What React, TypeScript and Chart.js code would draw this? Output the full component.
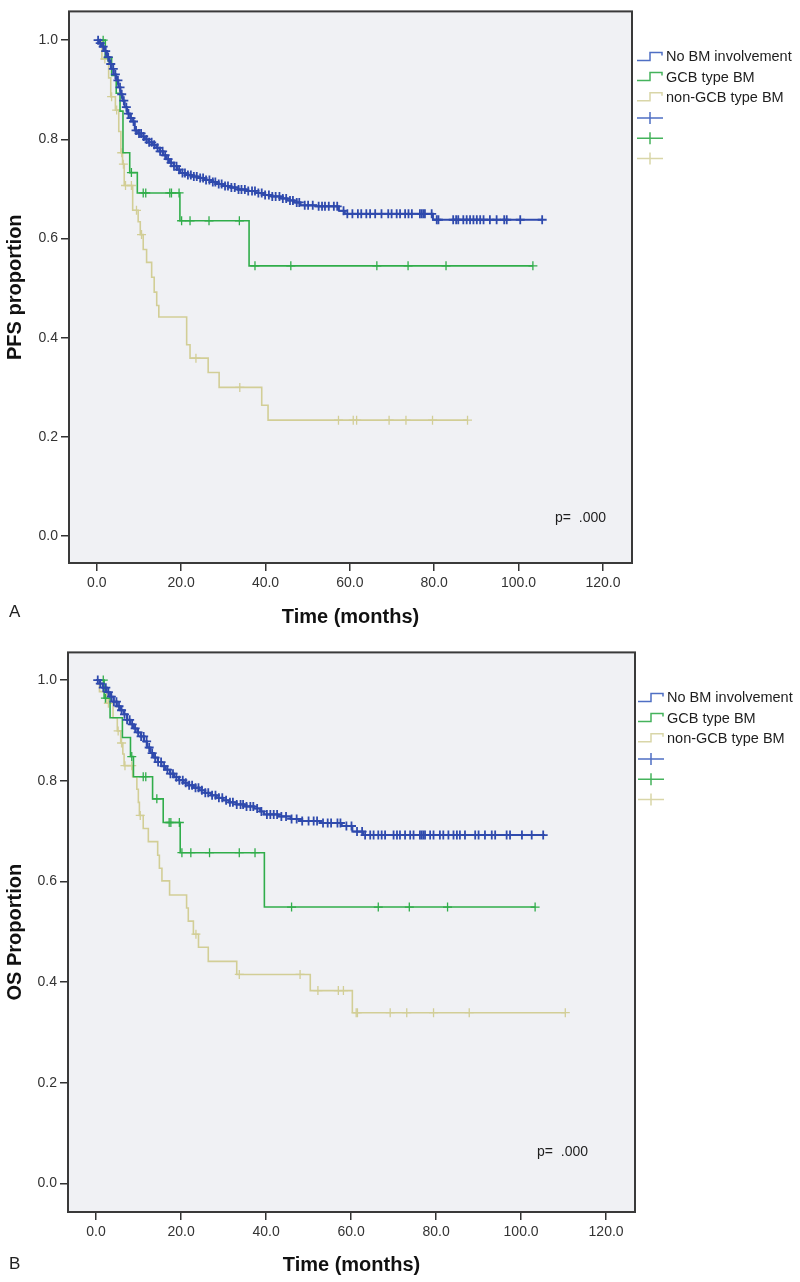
import React, { useEffect, useRef } from "react";
import { Chart, registerables } from "chart.js";

Chart.register(...registerables);

// ---------------- data ----------------
const xTickValues = [0, 20, 40, 60, 80, 100, 120];
const yTickValues = [0, 0.2, 0.4, 0.6, 0.8, 1.0];
const groupLabels = ["No BM involvement", "GCB type BM", "non-GCB type BM"];

// Panel A – PFS
const pfsNoBmTime = [0, 0.6, 1.2, 1.8, 2.4, 3.0, 3.5, 4.0, 4.6, 5.1, 5.6, 6.1, 6.6, 7.2, 7.9, 8.6, 9.0, 9.8, 10.6, 11.4, 12.3, 13.2, 14.1, 14.9, 15.7, 16.5, 17.3, 18.2, 19.0, 19.8, 21.0, 22.5, 24.0, 25.6, 27.2, 28.6, 30.1, 31.8, 33.5, 35.4, 37.6, 39.6, 41.5, 43.6, 45.2, 46.8, 48.3, 52.0, 57.4, 58.8, 79.7, 105.8];
const pfsNoBmSurv = [1.0, 0.994, 0.987, 0.978, 0.966, 0.952, 0.942, 0.931, 0.919, 0.905, 0.891, 0.878, 0.865, 0.852, 0.843, 0.836, 0.818, 0.812, 0.806, 0.8, 0.794, 0.789, 0.783, 0.776, 0.768, 0.76, 0.753, 0.746, 0.739, 0.732, 0.728, 0.725, 0.722, 0.718, 0.714, 0.71, 0.706, 0.703, 0.699, 0.696, 0.692, 0.688, 0.685, 0.681, 0.677, 0.673, 0.667, 0.665, 0.656, 0.65, 0.638, 0.638];
const pfsNoBmCensor = [0.3, 0.8, 1.5, 2.1, 2.7, 3.3, 3.9, 4.4, 5.0, 5.5, 5.9, 6.4, 7.0, 7.5, 8.1, 8.7, 9.3, 10.0, 10.5, 11.1, 11.8, 12.4, 13.0, 13.6, 14.4, 15.0, 15.6, 16.2, 16.9, 17.6, 18.3, 18.9, 19.5, 20.3, 20.9, 21.6, 22.3, 23.0, 23.7, 24.5, 25.2, 25.9, 26.7, 27.5, 28.1, 28.9, 29.6, 30.4, 31.1, 31.9, 32.7, 33.6, 34.3, 35.1, 35.9, 36.8, 37.5, 38.3, 39.1, 39.9, 40.8, 41.6, 42.4, 43.3, 44.1, 44.9, 45.8, 46.5, 47.4, 48.0, 49.3, 50.1, 51.2, 52.6, 53.4, 54.1, 55.0, 56.2, 57.0, 58.5, 59.4, 60.6, 61.9, 62.7, 63.9, 64.8, 66.0, 67.5, 69.1, 69.9, 71.1, 71.9, 73.1, 73.9, 74.7, 76.6, 77.0, 77.4, 77.8, 79.4, 80.6, 81.0, 84.5, 85.2, 85.7, 86.9, 87.7, 88.5, 89.3, 90.1, 90.9, 91.7, 93.2, 94.8, 96.6, 97.2, 100.4, 105.6];

const pfsGcbTime = [0, 2.0, 3.5, 4.6, 5.5, 6.2, 7.8, 9.6, 19.7, 36.1, 103.4];
const pfsGcbSurv = [1.0, 0.965, 0.929, 0.893, 0.857, 0.773, 0.733, 0.692, 0.636, 0.545, 0.545];
const pfsGcbCensor = [1.5, 2.7, 8.2, 11.0, 11.6, 17.3, 17.7, 19.5, 20.1, 22.1, 26.6, 33.8, 37.5, 46.0, 66.4, 73.8, 82.8, 103.4];

const pfsNonGcbTime = [0, 1.2, 2.8, 3.3, 4.4, 5.2, 5.7, 6.1, 6.5, 8.5, 9.8, 10.3, 11.0, 11.8, 13.0, 13.6, 14.2, 14.7, 21.3, 22.1, 26.4, 29.0, 39.1, 40.6, 87.9];
const pfsNonGcbSurv = [1.0, 0.962, 0.924, 0.886, 0.859, 0.816, 0.773, 0.75, 0.707, 0.657, 0.634, 0.608, 0.578, 0.552, 0.522, 0.492, 0.465, 0.442, 0.386, 0.359, 0.33, 0.3, 0.264, 0.234, 0.234];
const pfsNonGcbCensor = [1.9, 3.5, 4.7, 5.9, 6.3, 6.8, 8.2, 9.4, 10.6, 23.5, 33.9, 57.3, 60.8, 61.6, 69.3, 73.3, 79.6, 87.9];

// Panel B – OS
const osNoBmTime = [0, 0.8, 1.6, 2.5, 3.3, 4.1, 4.9, 5.7, 6.5, 7.3, 8.1, 8.9, 9.7, 10.5, 11.3, 12.0, 12.8, 13.6, 14.5, 15.4, 16.4, 17.4, 18.4, 19.5, 20.6, 21.8, 23.0, 24.3, 25.6, 27.0, 28.4, 29.8, 31.3, 33.0, 35.0, 37.2, 38.6, 39.5, 43.0, 45.8, 48.5, 53.0, 57.8, 60.3, 62.8, 105.6];
const osNoBmSurv = [1.0, 0.993, 0.985, 0.976, 0.967, 0.957, 0.948, 0.94, 0.932, 0.921, 0.912, 0.904, 0.896, 0.888, 0.878, 0.866, 0.855, 0.846, 0.837, 0.829, 0.822, 0.814, 0.807, 0.801, 0.796, 0.791, 0.786, 0.781, 0.776, 0.771, 0.766, 0.761, 0.757, 0.753, 0.749, 0.745, 0.739, 0.733, 0.729, 0.724, 0.72, 0.716, 0.71, 0.699, 0.692, 0.692];
const osNoBmCensor = [0.4, 1.0, 1.7, 2.3, 2.9, 3.6, 4.2, 4.8, 5.4, 6.0, 6.7, 7.3, 7.9, 8.5, 9.2, 9.9, 10.6, 11.2, 11.9, 12.5, 13.2, 13.9, 14.6, 15.3, 16.0, 16.8, 17.5, 18.1, 18.9, 19.6, 20.4, 21.1, 21.9, 22.6, 23.4, 24.1, 24.9, 25.7, 26.4, 27.3, 28.1, 28.9, 29.7, 30.6, 31.5, 32.2, 33.1, 34.0, 34.6, 35.4, 36.3, 37.0, 37.9, 38.9, 40.2, 41.0, 41.8, 42.6, 43.6, 44.7, 46.0, 47.2, 48.5, 50.0, 51.2, 52.0, 53.4, 54.5, 55.3, 56.8, 57.5, 58.9, 60.1, 61.4, 62.6, 63.3, 64.5, 65.3, 66.4, 67.2, 68.0, 70.0, 70.8, 71.5, 72.7, 73.9, 74.7, 76.2, 76.6, 77.0, 77.4, 78.6, 79.4, 80.9, 81.7, 82.9, 84.1, 84.9, 85.6, 86.8, 89.2, 90.0, 91.5, 93.1, 93.9, 96.6, 97.4, 100.2, 102.5, 105.2];

const osGcbTime = [0, 1.9, 3.3, 6.2, 8.1, 8.8, 13.3, 15.8, 19.8, 39.6, 103.3];
const osGcbSurv = [1.0, 0.964, 0.925, 0.886, 0.848, 0.808, 0.764, 0.717, 0.657, 0.549, 0.549];
const osGcbCensor = [1.7, 2.2, 8.4, 11.1, 11.7, 14.3, 17.2, 17.6, 19.6, 20.2, 22.3, 26.7, 33.7, 37.4, 46.0, 66.4, 73.7, 82.7, 103.3];

const osNonGcbTime = [0, 0.8, 2.5, 4.0, 5.0, 5.8, 6.3, 6.6, 8.6, 9.6, 9.95, 10.2, 11.1, 12.3, 14.5, 14.9, 15.5, 17.3, 21.3, 21.7, 22.9, 24.1, 26.4, 33.1, 50.4, 60.3, 110.4];
const osNonGcbSurv = [1.0, 0.977, 0.954, 0.925, 0.899, 0.875, 0.853, 0.83, 0.808, 0.783, 0.757, 0.731, 0.705, 0.679, 0.652, 0.626, 0.601, 0.573, 0.547, 0.521, 0.495, 0.469, 0.441, 0.415, 0.383, 0.339, 0.339];
const osNonGcbCensor = [2.9, 5.2, 6.0, 6.8, 8.4, 10.4, 23.5, 33.7, 48.0, 52.2, 57.0, 58.2, 61.2, 61.5, 69.2, 73.1, 79.4, 87.8, 110.4];

// ---------------- styles / layout ----------------
const FONT = '"Liberation Sans", Arial, Helvetica, sans-serif';
const groupColors = ["#2f4aad", "#30ad4a", "#d2ce96"];
const lineWidths = [2, 1.6, 1.6];
const censorWidths = [1.8, 1.3, 1.3];
const legendColors = ["#4f6fc4", "#45b35c", "#d9d6a8"];
const PLOT_BG = "#f0f1f4";
const CANVAS_W = 800;
const CANVAS_H = 641;

type Group = { time: number[]; surv: number[]; censor: number[] };
type Panel = {
  letter: string;
  yTitle: string;
  groups: Group[];
  xMin: number; xMax: number; yMin: number; yMax: number;
  padTop: number; padRight: number; yAxisWidth: number; xAxisHeight: number;
  xTitlePad: number; legendDx: number; pX: number; pY: number; letterY: number;
};

const panelA: Panel = {
  letter: "A",
  yTitle: "PFS proportion",
  groups: [
    { time: pfsNoBmTime, surv: pfsNoBmSurv, censor: pfsNoBmCensor },
    { time: pfsGcbTime, surv: pfsGcbSurv, censor: pfsGcbCensor },
    { time: pfsNonGcbTime, surv: pfsNonGcbSurv, censor: pfsNonGcbCensor },
  ],
  xMin: -6.6, xMax: 126.9, yMin: -0.054, yMax: 1.058,
  padTop: 4, padRight: 168, yAxisWidth: 69, xAxisHeight: 78,
  xTitlePad: 12, legendDx: 5, pX: 555, pY: 518, letterY: 612,
};

const panelB: Panel = {
  letter: "B",
  yTitle: "OS Proportion",
  groups: [
    { time: osNoBmTime, surv: osNoBmSurv, censor: osNoBmCensor },
    { time: osGcbTime, surv: osGcbSurv, censor: osGcbCensor },
    { time: osNonGcbTime, surv: osNonGcbSurv, censor: osNonGcbCensor },
  ],
  xMin: -6.6, xMax: 126.8, yMin: -0.057, yMax: 1.055,
  padTop: 6, padRight: 165, yAxisWidth: 68, xAxisHeight: 70,
  xTitlePad: 5, legendDx: 3, pX: 537, pY: 511, letterY: 623,
};

// ---------------- helpers ----------------
const stepPoints = (t: number[], s: number[]) => {
  const n = Math.min(t.length, s.length);
  const out: { x: number; y: number }[] = [];
  for (let i = 0; i < n; i++) out.push({ x: t[i], y: s[i] });
  return out;
};
const survAt = (t: number[], s: number[], c: number) => {
  let v = s[0];
  for (let i = 0; i < Math.min(t.length, s.length); i++) {
    if (t[i] <= c) v = s[i];
    else break;
  }
  return v;
};
const censorPoints = (g: Group) => g.censor.map((c) => ({ x: c, y: survAt(g.time, g.surv, c) }));

function buildConfig(panel: Panel): any {
  const datasets: any[] = [];
  panel.groups.forEach((g, i) => {
    datasets.push({
      label: groupLabels[i],
      data: stepPoints(g.time, g.surv),
      borderColor: groupColors[i],
      borderWidth: lineWidths[i],
      stepped: "before",
      pointRadius: 0,
      fill: false,
      tension: 0,
    });
    datasets.push({
      label: groupLabels[i] + " censored",
      data: censorPoints(g),
      showLine: false,
      borderColor: groupColors[i],
      backgroundColor: groupColors[i],
      pointStyle: "cross",
      pointRadius: 4.5,
      pointBorderWidth: censorWidths[i],
    });
  });

  const decor = {
    id: "kmDecor",
    beforeDraw(chart: any) {
      const { ctx, chartArea: a } = chart;
      ctx.save();
      ctx.fillStyle = "#ffffff";
      ctx.fillRect(0, 0, chart.width, chart.height);
      ctx.fillStyle = PLOT_BG;
      ctx.fillRect(a.left, a.top, a.right - a.left, a.bottom - a.top);
      ctx.restore();
    },
    afterDraw(chart: any) {
      const { ctx, chartArea: a } = chart;
      ctx.save();
      ctx.strokeStyle = "#3a3a3a";
      ctx.lineWidth = 2;
      ctx.strokeRect(a.left, a.top, a.right - a.left, a.bottom - a.top);

      // legend
      const lx = a.right + panel.legendDx;
      const ly0 = a.top + 46;
      ctx.font = `14.5px ${FONT}`;
      ctx.textBaseline = "middle";
      ctx.textAlign = "left";
      ctx.lineWidth = 1.5;
      groupLabels.forEach((lab, i) => {
        const cy = ly0 + i * 20.2;
        ctx.strokeStyle = legendColors[i];
        ctx.beginPath();
        ctx.moveTo(lx, cy + 3);
        ctx.lineTo(lx + 13, cy + 3);
        ctx.lineTo(lx + 13, cy - 5);
        ctx.lineTo(lx + 25, cy - 5);
        ctx.lineTo(lx + 25, cy - 2);
        ctx.stroke();
        ctx.fillStyle = "#1e1e1e";
        ctx.fillText(lab, lx + 29, cy);
      });
      groupLabels.forEach((_, i) => {
        const cy = ly0 + (3 + i) * 20.2;
        ctx.strokeStyle = legendColors[i];
        ctx.beginPath();
        ctx.moveTo(lx, cy);
        ctx.lineTo(lx + 26, cy);
        ctx.moveTo(lx + 13, cy - 6);
        ctx.lineTo(lx + 13, cy + 6);
        ctx.stroke();
      });

      // p value
      ctx.fillStyle = "#1e1e1e";
      ctx.font = `14px ${FONT}`;
      ctx.fillText("p=  .000", panel.pX, panel.pY);

      // panel letter
      ctx.font = `17px ${FONT}`;
      ctx.fillStyle = "#222";
      ctx.fillText(panel.letter, 9, panel.letterY);
      ctx.restore();
    },
  };

  return {
    type: "line",
    data: { datasets },
    plugins: [decor],
    options: {
      animation: false,
      responsive: false,
      devicePixelRatio: 1,
      layout: { padding: { left: 0, top: panel.padTop, right: panel.padRight, bottom: 0 } },
      plugins: { legend: { display: false }, tooltip: { enabled: false } },
      scales: {
        x: {
          type: "linear",
          min: panel.xMin,
          max: panel.xMax,
          afterBuildTicks: (s: any) => {
            s.ticks = xTickValues.map((v) => ({ value: v }));
          },
          afterFit: (s: any) => {
            s.height = panel.xAxisHeight;
          },
          grid: { drawOnChartArea: false, drawTicks: true, tickLength: 8, color: "#333", lineWidth: 1.5 },
          border: { display: false },
          ticks: {
            autoSkip: false,
            maxRotation: 0,
            padding: 4,
            color: "#333",
            font: { family: FONT, size: 14 },
            callback: (v: any) => Number(v).toFixed(1),
          },
          title: {
            display: true,
            text: "Time (months)",
            color: "#111",
            font: { family: FONT, size: 20, weight: "bold" },
            padding: { top: 0, bottom: panel.xTitlePad },
          },
        },
        y: {
          type: "linear",
          min: panel.yMin,
          max: panel.yMax,
          afterBuildTicks: (s: any) => {
            s.ticks = yTickValues.map((v) => ({ value: v }));
          },
          afterFit: (s: any) => {
            s.width = panel.yAxisWidth;
          },
          grid: { drawOnChartArea: false, drawTicks: true, tickLength: 8, color: "#333", lineWidth: 1.5 },
          border: { display: false },
          ticks: {
            padding: 3,
            color: "#333",
            font: { family: FONT, size: 14 },
            callback: (v: any) => Number(v).toFixed(1),
          },
          title: {
            display: true,
            text: panel.yTitle,
            color: "#111",
            font: { family: FONT, size: 20, weight: "bold" },
            padding: { top: 3, bottom: 0 },
          },
        },
      },
    },
  };
}

function KMChart({ panel }: { panel: Panel }) {
  const ref = useRef<HTMLCanvasElement | null>(null);
  useEffect(() => {
    if (!ref.current) return;
    const chart = new Chart(ref.current, buildConfig(panel));
    return () => chart.destroy();
  }, [panel]);
  return (
    <canvas
      ref={ref}
      width={CANVAS_W}
      height={CANVAS_H}
      style={{ display: "block", width: CANVAS_W, height: CANVAS_H }}
    />
  );
}

export default function App() {
  return (
    <div style={{ position: "absolute", left: 0, top: 0, width: 800, height: 1282, background: "#fff" }}>
      <KMChart panel={panelA} />
      <KMChart panel={panelB} />
    </div>
  );
}
